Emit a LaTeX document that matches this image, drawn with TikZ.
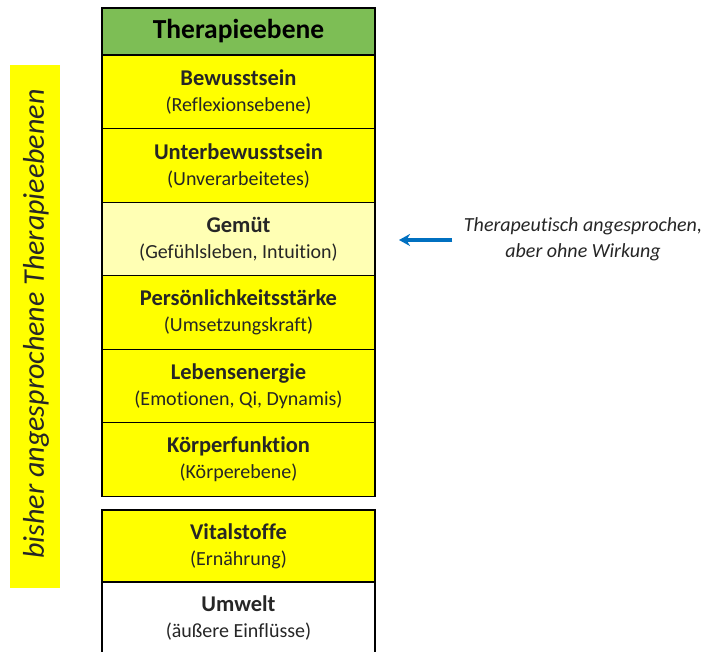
\documentclass[tikz,border=0pt]{standalone}
\usepackage{fontspec}
\setmainfont{Carlito}[Ligatures=NoCommon]
\usetikzlibrary{arrows.meta,positioning}
\definecolor{gruen10}{RGB}{125, 190, 85}
\definecolor{gelb10}{RGB}{255, 255, 0}
\definecolor{gelb20}{RGB}{255, 255, 180}
\definecolor{blau10}{RGB}{0, 112, 192}

\tikzset{
  ebene/.style={draw=black, line width=1.3pt, minimum width=273pt, minimum height=73.5pt,
    inner sep=0pt, align=center, text=black!85, font=\fontsize{20}{26}\selectfont},
  titel/.style={draw=black, line width=1.3pt, fill=gruen10, minimum width=273pt,
    minimum height=47pt, inner sep=0pt, font=\bfseries\fontsize{27.5}{30}\selectfont},
  pfeil/.style={draw=blau10, line width=3.5pt, -{Stealth[length=11pt,width=12pt]}}
}
\newcommand{\zeile}[2]{{\bfseries\fontsize{22.5}{26}\selectfont #1}\\#2}

\begin{document}
\begin{tikzpicture}[x=1pt, y=-1pt]
  \useasboundingbox (0,0) rectangle (718,652);
  % seitliche Leiste
  \node (leiste) [fill=gelb10, minimum width=50pt, minimum height=523pt, inner sep=0pt]
        at (35,326.5) {};
  \node (leistetext) [rotate=90, text=black!85, font=\itshape\fontsize{30}{32}\selectfont] at (36,324)
        {bisher angesprochene Therapieebenen};
  % Therapieebenen
  \node (kopf) [titel] at (238.5,31.5) {Therapieebene};
  \node (bewusst) [ebene, fill=gelb10] at (238.5,92) {\zeile{Bewusstsein}{(Reflexionsebene)}};
  \node (unterbew) [ebene, fill=gelb10] at (238.5,165.5) {\zeile{Unterbewusstsein}{(Unverarbeitetes)}};
  \node (gemuet) [ebene, fill=gelb20] at (238.5,239) {\zeile{Gemüt}{(Gefühlsleben, Intuition)}};
  \node (staerke) [ebene, fill=gelb10] at (238.5,312.5) {\zeile{Persönlichkeitsstärke}{(Umsetzungskraft)}};
  \node (energie) [ebene, fill=gelb10] at (238.5,386) {\zeile{Lebensenergie}{(Emotionen, Qi, Dynamis)}};
  \node (koerper) [ebene, fill=gelb10] at (238.5,459.5) {\zeile{Körperfunktion}{(Körperebene)}};
  \node (vital) [ebene, fill=gelb10, minimum height=72pt] at (238.5,546) {\zeile{Vitalstoffe}{(Ernährung)}};
  \node (umwelt) [ebene, fill=white, minimum height=72pt] at (238.5,618) {\zeile{Umwelt}{(äußere Einflüsse)}};
  % Hinweis
  \node (hinweis) [align=center, text=black!85, font=\itshape\fontsize{20}{26}\selectfont] at (583,239)
        {Therapeutisch angesprochen,\\aber ohne Wirkung};
  \coordinate (ziel) at (399,240);
  \draw[pfeil] (hinweis.west) ++(-8,1) -- (ziel);
\end{tikzpicture}
\end{document}
